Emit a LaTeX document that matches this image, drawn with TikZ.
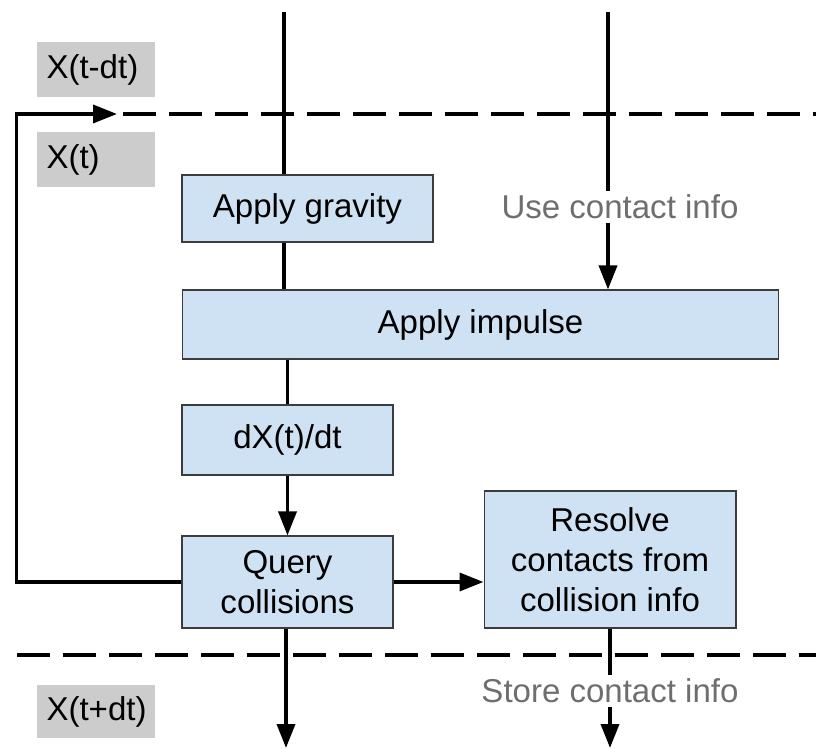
\documentclass[tikz,border=0pt]{standalone}
\usepackage{fontspec}
\setmainfont{Liberation Sans}
\usetikzlibrary{arrows.meta,positioning}
\definecolor{boxfill}{HTML}{CFE2F3}
\definecolor{boxline}{HTML}{3C3C3C}
\definecolor{tagfill}{HTML}{CCCCCC}
\definecolor{note}{HTML}{6E6E6E}
\newcommand{\labelfont}{\fontsize{18.8}{22.7}\selectfont}

\begin{document}
\begin{tikzpicture}[x=0.02cm,y=-0.02cm,
  block/.style={draw=boxline,line width=0.6pt,fill=boxfill,align=center,
    inner sep=0pt,font=\labelfont},
  tag/.style={fill=tagfill,text width=1.98cm,align=left,inner xsep=0.19cm,
    inner ysep=0pt,minimum height=1.1cm,font=\labelfont},
  notetext/.style={text=note,inner sep=2pt,font=\labelfont},
  wire/.style={line width=2pt},
  flow/.style={wire,-{Triangle[length=0.48cm,width=0.36cm]}},
  phase/.style={line width=2pt,dash pattern=on 0.66cm off 0.26cm}]
\useasboundingbox (0,0) rectangle (816,749);
% time step tags
\node[tag] (prev) at (96,69.5) {X(t-dt)};
\node[tag] (cur) at (96,159.5) {X(t)};
\node[tag,minimum height=1.06cm] (next) at (96,711.5) {X(t+dt)};
% processing blocks
\node[block,minimum width=5.02cm,minimum height=1.34cm] (gravity) at (307.5,208.5) {Apply gravity};
\node[block,minimum width=11.94cm,minimum height=1.38cm] (impulse) at (480.5,324.5) {Apply impulse};
\node[block,minimum width=4.22cm,minimum height=1.4cm] (deriv) at (287.5,440) {dX(t)/dt};
\node[block,minimum width=4.22cm,minimum height=1.84cm] (query) at (287.5,582) {Query\\collisions};
\node[block,minimum width=5.04cm,minimum height=2.74cm] (resolve) at (610,559.5) {Resolve\\contacts from\\collision info};
\node[notetext] (use) at (620,207) {Use contact info};
\node[notetext] (store) at (610,691) {Store contact info};
% free ends
\coordinate (statein) at (284,12);
\coordinate (contactin) at (608,12);
\coordinate (stateout) at (286,748);
\coordinate (contactout) at (610,748);
\coordinate (back) at (117,114);
\coordinate (stepend) at (816,114);
\coordinate (nextstart) at (17,655);
\coordinate (nextend) at (816,655);
% step boundaries
\draw[phase] (back) ++(6,0) -- (stepend);
\draw[phase] (nextstart) -- (nextend);
% connectors
\draw[wire] (statein) -- (gravity.north -| statein);
\draw[wire] (gravity.south -| statein) -- (impulse.north -| statein);
\draw[wire] (contactin) -- (use.north -| contactin);
\draw[flow] (use.south -| contactin) -- (impulse.north -| contactin);
\draw[wire] (impulse.south -| deriv) -- (deriv.north);
\draw[flow] (deriv.south) -- (query.north);
\draw[flow] (query.east) -- (resolve.west |- query.east);
\draw[flow] (query.west) -- ++(-165,0) |- (back);
\draw[flow] (query.south -| stateout) -- (stateout);
\draw[wire] (resolve.south) -- (store.north);
\draw[flow] (store.south) -- (contactout);
\end{tikzpicture}
\end{document}
